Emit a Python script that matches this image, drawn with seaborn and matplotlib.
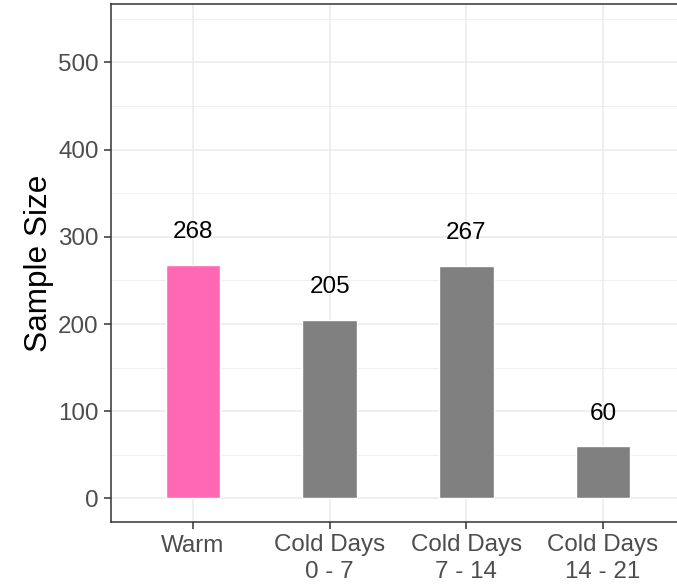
import matplotlib
matplotlib.use("Agg")
import matplotlib.pyplot as plt
import seaborn as sns
import pandas as pd
from matplotlib.ticker import MultipleLocator

groups = ["Warm", "Cold Days\n0 - 7", "Cold Days\n7 - 14", "Cold Days\n14 - 21"]
sample_size = [268, 205, 267, 60]
bar_colors = ["#FF69B4", "#808080", "#808080", "#808080"]

df = pd.DataFrame({"group": groups, "n": sample_size})

sns.set_theme(style="white")
plt.rcParams["font.family"] = ["Liberation Sans", "DejaVu Sans"]

fig = plt.figure(figsize=(6.77, 5.87), dpi=100)
ax = fig.add_axes([111 / 677, 65 / 587, (685 - 111) / 677, (522 - 4) / 587])

sns.barplot(data=df, x="group", y="n", hue="group", palette=bar_colors,
            width=0.4, legend=False, ax=ax, saturation=1, zorder=3)

for i, v in enumerate(sample_size):
    ax.text(i, v + 37, str(v), ha="center", va="center", fontsize=17.5,
            color="black", zorder=4)

ax.set_xlim(-0.6, 3.6)
ax.set_ylim(-27, 567)
ax.yaxis.set_major_locator(MultipleLocator(100))
ax.yaxis.set_minor_locator(MultipleLocator(50))
ax.set_yticks([0, 100, 200, 300, 400, 500])

ax.grid(True, which="major", color="#EBEBEB", linewidth=1.1, zorder=0)
ax.grid(True, which="minor", axis="y", color="#EBEBEB", linewidth=0.55, zorder=0)
ax.set_axisbelow(True)

ax.set_xlabel("")
ax.set_ylabel("Sample Size", fontsize=22.7, color="black", labelpad=3)
ax.tick_params(axis="both", which="major", labelsize=17.4, labelcolor="#4D4D4D",
               color="#333333", length=5, width=1.1, left=True, bottom=True, pad=4)
ax.tick_params(axis="y", which="minor", length=0)
for lbl in ax.get_xticklabels():
    lbl.set_linespacing(1.25)

for side in ["left", "bottom", "top", "right"]:
    ax.spines[side].set_color("#333333")
    ax.spines[side].set_linewidth(1.1)
    ax.spines[side].set_visible(True)

fig.savefig("out.png", dpi=100)
